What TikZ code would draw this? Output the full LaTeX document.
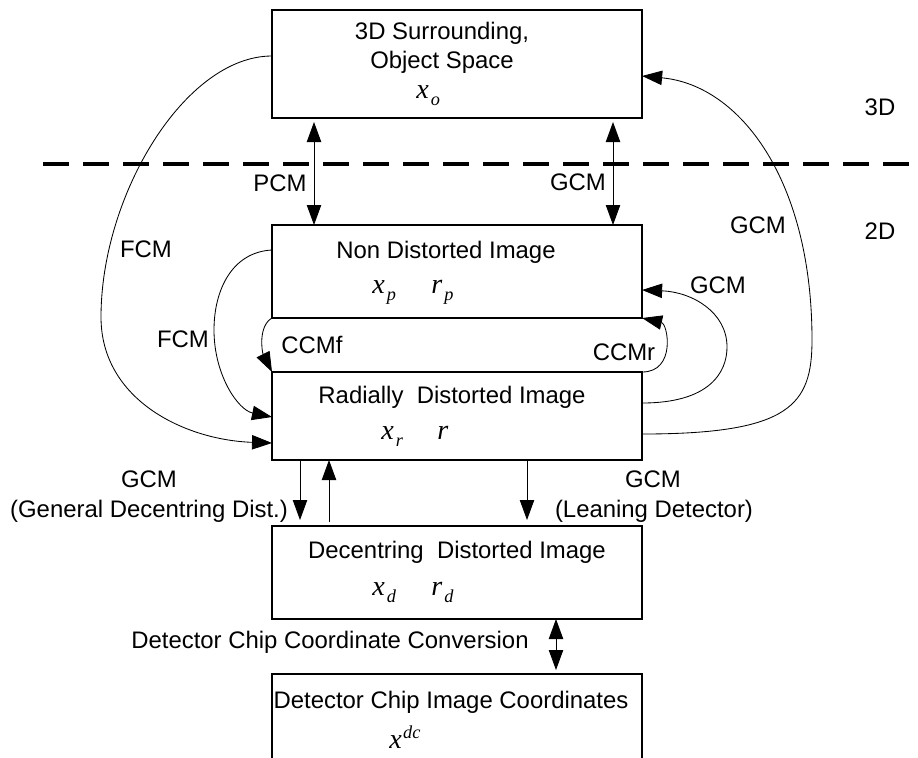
\documentclass[tikz,border=0pt]{standalone}
\usepackage{fontspec}
\setmainfont{Liberation Sans}
\newfontfamily\tnrfont{Liberation Serif}
\usetikzlibrary{arrows.meta,calc}
\newcommand\onesym[1]{{\tnrfont\itshape\fontsize{20}{20}\selectfont #1}}
\newcommand\subsym[2]{\onesym{#1}\kern1.5pt\raisebox{-5.5pt}{\tnrfont\itshape\fontsize{13}{13}\selectfont #2}}
\newcommand\supsym[2]{\onesym{#1}\kern1pt\raisebox{7pt}{\tnrfont\itshape\fontsize{13}{13}\selectfont #2}}

\tikzset{
	blk/.style={draw, line width=0.9pt, minimum width=9.25cm, anchor=north west, inner sep=0pt, outer sep=0pt},
	txt/.style={anchor=base, inner sep=0pt},
	sym/.style={anchor=base west, inner sep=0pt},
	conn/.style={line width=0.6pt},
	divider/.style={line width=2.2pt, dash pattern=on 0.65cm off 0.35cm}
}

\begin{document}
\begin{tikzpicture}[x=0.025cm, y=-0.025cm, font=\fontsize{17}{20}\selectfont, >={Triangle[length=0.5cm,width=0.36cm]}]
	\useasboundingbox (0,0) rectangle (918,757);
	\clip (0,0) rectangle (918,757);
	\node[blk, minimum height=2.7cm] (object) at (272,10) {};
	\node[blk, minimum height=2.325cm] (nondist) at (272,225) {};
	\node[blk, minimum height=2.2cm] (radial) at (272,372) {};
	\node[blk, minimum height=2.325cm] (decent) at (272,526) {};
	\node[blk, minimum height=3cm] (chip) at (272,674) {};
	\node[txt] (objA) at (442,39) {3D Surrounding,};
	\node[txt] (objB) at (442,68) {Object Space};
	\node[sym] (xo) at (416,98) {\subsym{x}{o}};
	\node[txt] (ndA) at (446,258) {Non Distorted Image};
	\node[sym] (xp) at (372,293) {\subsym{x}{p}};
	\node[sym] (rp) at (431,293) {\subsym{r}{p}};
	\node[txt] (rdA) at (452,403) {Radially\ \ Distorted Image};
	\node[sym] (xr) at (381,439) {\subsym{x}{r}};
	\node[sym] (rr) at (437,439) {\onesym{r}};
	\node[txt] (dcA) at (457,558) {Decentring\ \ Distorted Image};
	\node[sym] (xd) at (372,595) {\subsym{x}{d}};
	\node[sym] (rd) at (431,595) {\subsym{r}{d}};
	\node[txt] (chA) at (451,708) {Detector Chip Image Coordinates};
	\node[sym] (xdc) at (389,748) {\supsym{x}{dc}};
	\draw[divider] (43,164) -- (918,164);
	\node[txt] (lab3d) at (880,115) {3D};
	\node[txt] (lab2d) at (880,239) {2D};
	\draw[conn,<->,shorten <=0.1cm] (object.south -| 314,0) -- (nondist.north -| 314,0);
	\draw[conn,<->,shorten <=0.1cm] (object.south -| 613,0) -- (nondist.north -| 613,0);
	\node[txt] (pcm) at (280,191) {PCM};
	\node[txt] (gcmA) at (578,190) {GCM};
	\draw[conn,->] (object.west |- 0,56) .. controls (185,56) and (101,195) .. (101,317) .. controls (101,400) and (185,440) .. (radial.west |- 0,443);
	\draw[conn,->] (nondist.west |- 0,250) .. controls (232,252) and (214,290) .. (214,330) .. controls (214,375) and (238,410) .. (radial.west |- 0,417);
	\draw[conn,->] (nondist.south west) .. controls +(-14,8) and +(-10,-20) .. (radial.north west);
	\draw[conn,->] (radial.north east) .. controls +(34,0) and +(26,6) .. (nondist.south east);
	\draw[conn,->] (radial.east |- 0,403) .. controls (710,403) and (727,372) .. (727,347) .. controls (727,312) and (692,292) .. (nondist.east |- 0,290);
	\draw[conn,->] (radial.east |- 0,434) .. controls (790,434) and (812,405) .. (812,340) .. controls (812,180) and (740,85) .. (object.east |- 0,76);
	\node[txt] (fcmA) at (146,257) {FCM};
	\node[txt] (fcmB) at (183,347) {FCM};
	\node[txt] (ccmf) at (312,353) {CCMf};
	\node[txt] (ccmr) at (624,360) {CCMr};
	\node[txt] (gcmB) at (718,293) {GCM};
	\node[txt] (gcmC) at (758,233) {GCM};
	\draw[conn,->,shorten >=0.15cm] (radial.south -| 300,0) -- (decent.north -| 300,0);
	\draw[conn,->,shorten <=0.1cm] (decent.north -| 329,0) -- (radial.south -| 329,0);
	\draw[conn,->,shorten >=0.15cm] (radial.south -| 527,0) -- (decent.north -| 527,0);
	\node[txt] (gcmD) at (149,487) {GCM};
	\node[txt] (gddA) at (149,517) {(General Decentring Dist.)};
	\node[txt] (gcmE) at (653,487) {GCM};
	\node[txt] (ldA) at (654,517) {(Leaning Detector)};
	\draw[conn,<->,shorten >=0.1cm] (decent.south -| 556,0) -- (chip.north -| 556,0);
	\node[txt] (convA) at (330,648) {Detector Chip Coordinate Conversion};
\end{tikzpicture}
\end{document}
